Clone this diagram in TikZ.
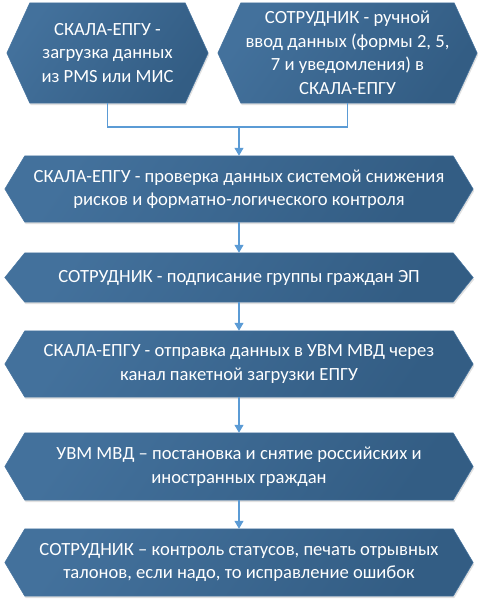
\documentclass[tikz,border=0pt]{standalone}
\usepackage{fontspec}
\setmainfont{Carlito}
\usetikzlibrary{backgrounds,shadows,arrows.meta}
\definecolor{boxA}{HTML}{43719C}
\definecolor{boxB}{HTML}{335D84}
\definecolor{boxEdge}{HTML}{4A77A2}
\definecolor{conn}{HTML}{5B9BD5}
\tikzset{
  box/.style={inner sep=0pt, align=center, text=white,
    font=\fontsize{18.6}{23.5}\selectfont},
  hexfill/.style={top color=boxA, bottom color=boxB, shading angle=55,
    draw=boxEdge, line width=0.5pt,
    drop shadow={shadow xshift=1pt, shadow yshift=-2pt, opacity=0.2, fill=black!60}},
  link/.style={draw=conn, line width=1.1pt},
  arr/.style={link, -{Triangle[width=9pt,length=8pt]}}
}
\newcommand{\hexshape}[2]{%
  \path[hexfill] ([xshift=#2pt]#1.north west) -- ([xshift=-#2pt]#1.north east)
    -- (#1.east) -- ([xshift=-#2pt]#1.south east) -- ([xshift=#2pt]#1.south west)
    -- (#1.west) -- cycle;}
\begin{document}
\begin{tikzpicture}[x=1pt,y=-1pt]
\useasboundingbox (0,0) rectangle (483,605);
\node[box, minimum width=201pt, minimum height=100pt] (b1) at (107.5,53)
  {СКАЛА-ЕПГУ -\\загрузка данных\\из PMS или МИС};
\node[box, minimum width=259pt, minimum height=100pt] (b2) at (347.5,53)
  {СОТРУДНИК - ручной\\ввод данных (формы 2, 5,\\7 и уведомления) в\\СКАЛА-ЕПГУ};
\node[box, minimum width=468pt, minimum height=66pt] (b3) at (239,189)
  {СКАЛА-ЕПГУ - проверка данных системой снижения\\рисков и форматно-логического контроля};
\node[box, minimum width=468pt, minimum height=49pt] (b4) at (239,277.5)
  {СОТРУДНИК - подписание группы граждан ЭП};
\node[box, minimum width=468pt, minimum height=66pt] (b5) at (239,364)
  {СКАЛА-ЕПГУ - отправка данных в УВМ МВД через\\канал пакетной загрузки ЕПГУ};
\node[box, minimum width=468pt, minimum height=67pt] (b6) at (239,466.5)
  {УВМ МВД – постановка и снятие российских и\\иностранных граждан};
\node[box, minimum width=468pt, minimum height=67pt] (b7) at (239,562.5)
  {СОТРУДНИК – контроль статусов, печать отрывных\\талонов, если надо, то исправление ошибок};
\begin{scope}[on background layer]
  \hexshape{b1}{23}
  \hexshape{b2}{23}
  \hexshape{b3}{20}
  \hexshape{b4}{20}
  \hexshape{b5}{20}
  \hexshape{b6}{20}
  \hexshape{b7}{20}
\end{scope}
\coordinate (j) at (239,127);
\draw[link] (b1.south) -- (b1.south |- j) -- (b2.south |- j) -- (b2.south);
\draw[arr] (j) -- (b3.north);
\draw[arr] (b3.south) -- (b4.north);
\draw[arr] (b4.south) -- (b5.north);
\draw[arr] (b5.south) -- (b6.north);
\draw[arr] (b6.south) -- (b7.north);
\end{tikzpicture}
\end{document}
